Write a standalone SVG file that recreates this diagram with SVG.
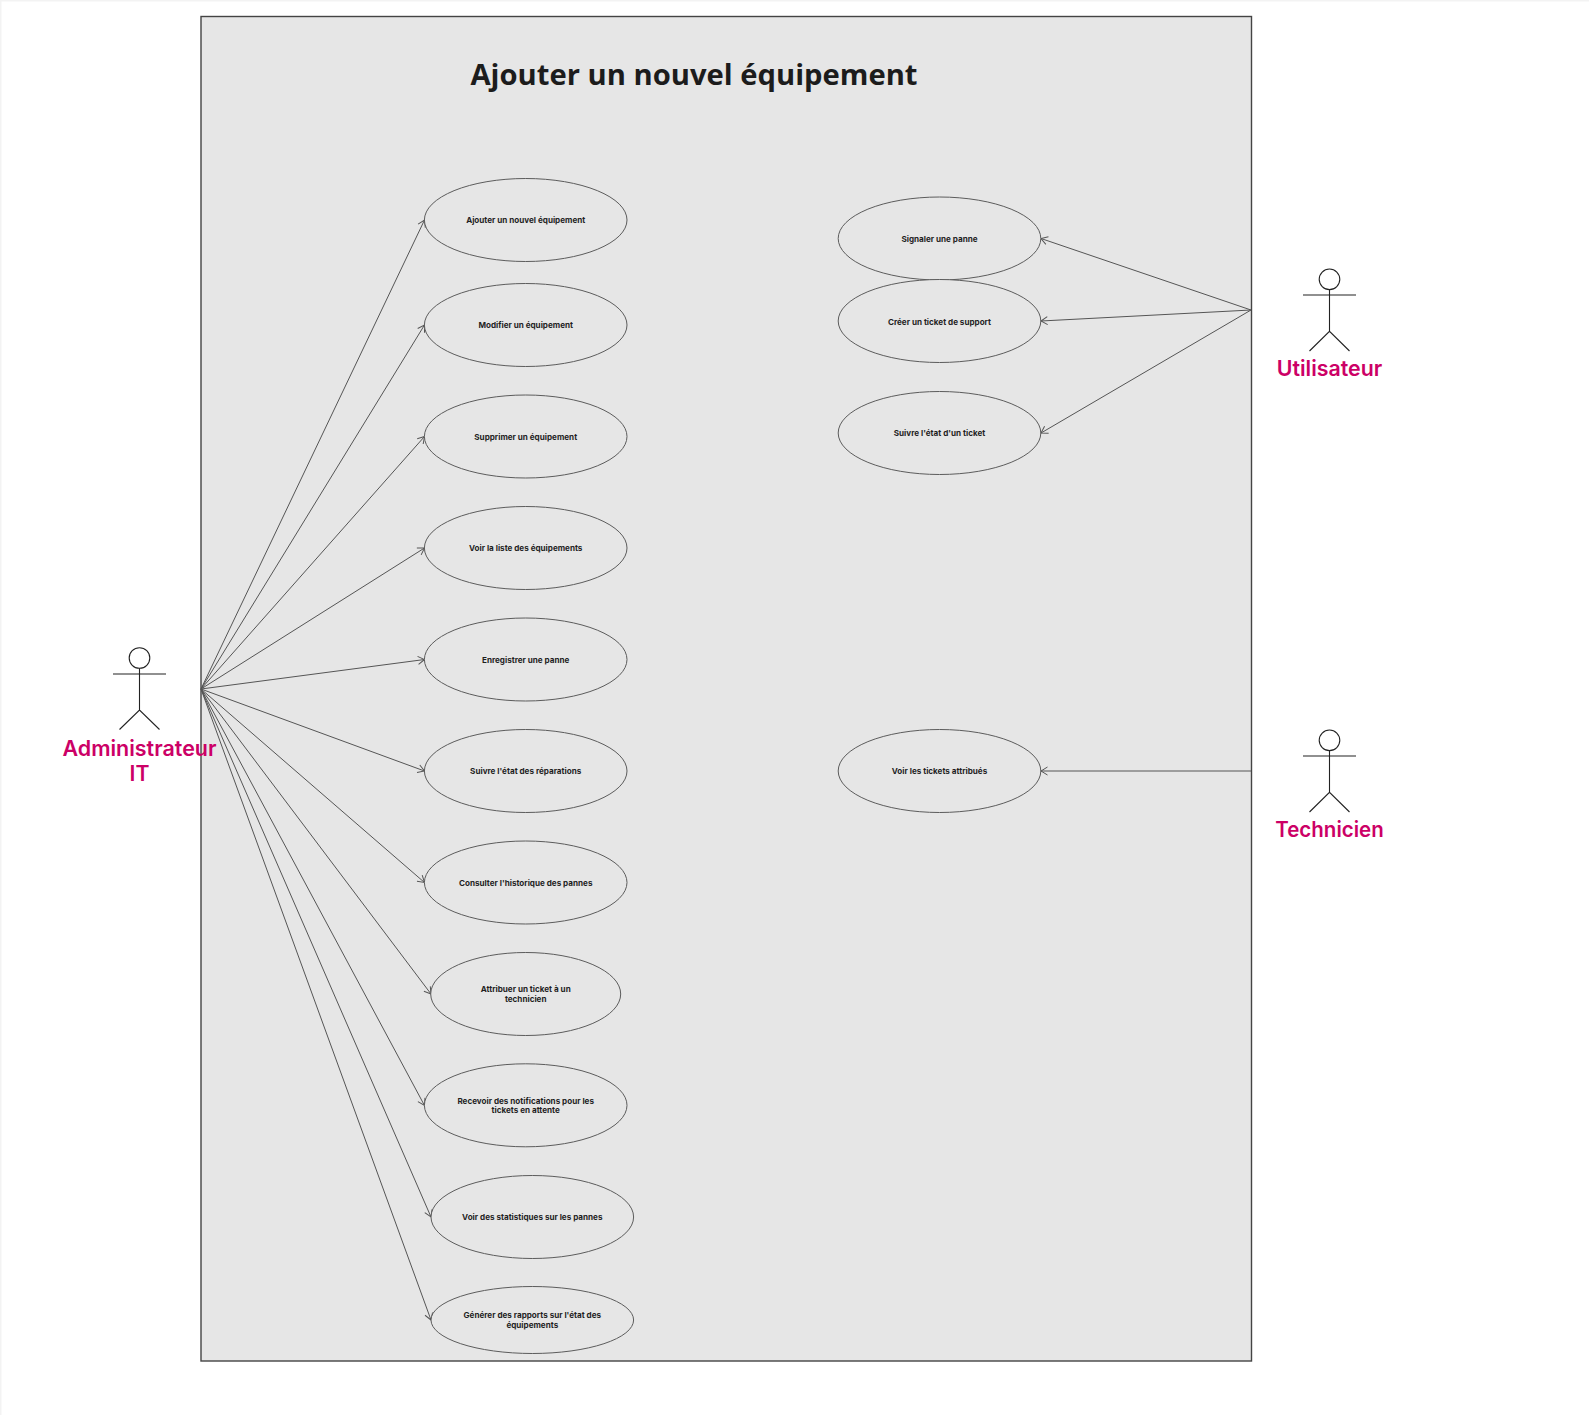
<svg xmlns="http://www.w3.org/2000/svg" width="1589" height="1415" viewBox="0 0 1589 1415">
<defs>
<marker id="arr" markerUnits="userSpaceOnUse" markerWidth="14" markerHeight="14" refX="9" refY="7" orient="auto"><path d="M2.5 3 L9 7 L2.5 11" fill="none" stroke="#555" stroke-width="1"/></marker>
</defs>
<style>
.uc{fill:#e6e6e6;stroke:#5c5c5c;stroke-width:1}
.conn line{stroke:#555;stroke-width:1;fill:none;marker-end:url(#arr)}
.lab{font-family:"Inter","Liberation Sans",sans-serif;font-weight:700;font-size:8.1px;fill:#1f1f1f;text-anchor:middle}
.act{font-family:"Inter","Liberation Sans",sans-serif;font-weight:600;font-size:21.2px;fill:#cc0066;text-anchor:middle}
.fig{fill:none;stroke:#222;stroke-width:1.1}
</style>
<rect width="1589" height="1415" fill="#f3f3f3"/>
<rect x="1.5" y="1.5" width="1587.5" height="1413.5" fill="#fff"/>
<g id="boundary"><rect x="201" y="16.5" width="1050.5" height="1344.5" fill="#e6e6e6" stroke="#444" stroke-width="1.4"/>
<text x="694" y="84.5" font-family="'Open Sans','Noto Sans',sans-serif" font-weight="700" font-size="29.2" fill="#1c1c1c" text-anchor="middle">Ajouter un nouvel équipement</text></g>
<g id="connectors" class="conn">
<line x1="201" y1="689" x2="424.5" y2="220"/>
<line x1="201" y1="689" x2="424.5" y2="325"/>
<line x1="201" y1="689" x2="424.5" y2="436.5"/>
<line x1="201" y1="689" x2="424.5" y2="548"/>
<line x1="201" y1="689" x2="424.5" y2="659.5"/>
<line x1="201" y1="689" x2="424.5" y2="771"/>
<line x1="201" y1="689" x2="424.5" y2="882.5"/>
<line x1="201" y1="689" x2="431" y2="994"/>
<line x1="201" y1="689" x2="424.5" y2="1105.5"/>
<line x1="201" y1="689" x2="431" y2="1217"/>
<line x1="201" y1="689" x2="431" y2="1320"/>
<line x1="1251" y1="310" x2="1041" y2="238.5"/>
<line x1="1251" y1="310" x2="1041" y2="321"/>
<line x1="1251" y1="310" x2="1041" y2="433"/>
<line x1="1251" y1="771" x2="1041" y2="771"/>
</g>
<g id="uc1"><ellipse class="uc" cx="525.7" cy="220" rx="101.3" ry="41.5"/><text class="lab" x="525.7" y="223">Ajouter un nouvel équipement</text></g>
<g id="uc2"><ellipse class="uc" cx="525.7" cy="325" rx="101.3" ry="41.5"/><text class="lab" x="525.7" y="328">Modifier un équipement</text></g>
<g id="uc3"><ellipse class="uc" cx="525.7" cy="436.5" rx="101.3" ry="41.5"/><text class="lab" x="525.7" y="440">Supprimer un équipement</text></g>
<g id="uc4"><ellipse class="uc" cx="525.7" cy="548" rx="101.3" ry="41.5"/><text class="lab" x="525.7" y="551">Voir la liste des équipements</text></g>
<g id="uc5"><ellipse class="uc" cx="525.7" cy="659.5" rx="101.3" ry="41.5"/><text class="lab" x="525.7" y="663">Enregistrer une panne</text></g>
<g id="uc6"><ellipse class="uc" cx="525.7" cy="771" rx="101.3" ry="41.5"/><text class="lab" x="525.7" y="774">Suivre l'état des réparations</text></g>
<g id="uc7"><ellipse class="uc" cx="525.7" cy="882.5" rx="101.3" ry="41.5"/><text class="lab" x="525.7" y="886">Consulter l'historique des pannes</text></g>
<g id="uc8"><ellipse class="uc" cx="525.7" cy="994" rx="95" ry="41.5"/><text class="lab" x="525.7" y="992">Attribuer un ticket à un</text><text class="lab" x="525.7" y="1002">technicien</text></g>
<g id="uc9"><ellipse class="uc" cx="525.7" cy="1105.3" rx="101.3" ry="41.5"/><text class="lab" x="525.7" y="1104">Recevoir des notifications pour les</text><text class="lab" x="525.7" y="1113">tickets en attente</text></g>
<g id="uc10"><ellipse class="uc" cx="532.3" cy="1217" rx="101.3" ry="41.5"/><text class="lab" x="532.3" y="1220">Voir des statistiques sur les pannes</text></g>
<g id="uc11"><ellipse class="uc" cx="532.3" cy="1320" rx="101.3" ry="33.5"/><text class="lab" x="532.3" y="1318">Générer des rapports sur l'état des</text><text class="lab" x="532.3" y="1328">équipements</text></g>
<g id="uc12"><ellipse class="uc" cx="939.5" cy="238.5" rx="101.3" ry="41.5"/><text class="lab" x="939.5" y="242">Signaler une panne</text></g>
<g id="uc13"><ellipse class="uc" cx="939.5" cy="321" rx="101.3" ry="41.5"/><text class="lab" x="939.5" y="325">Créer un ticket de support</text></g>
<g id="uc14"><ellipse class="uc" cx="939.5" cy="433" rx="101.3" ry="41.5"/><text class="lab" x="939.5" y="436">Suivre l'état d'un ticket</text></g>
<g id="uc15"><ellipse class="uc" cx="939.5" cy="771" rx="101.3" ry="41.5"/><text class="lab" x="939.5" y="774">Voir les tickets attribués</text></g>
<g id="actor-admin"><g class="fig"><circle cx="139.5" cy="658" r="10.3"/><path d="M113 674H166M139.5 668.3V710M119.5 729.5L139.5 710L159.5 729.5"/></g><text class="act" x="139.5" y="756" textLength="154" lengthAdjust="spacingAndGlyphs">Administrateur</text><text class="act" x="139.5" y="781">IT</text></g>
<g id="actor-user"><g class="fig"><circle cx="1329.5" cy="279.3" r="10.3"/><path d="M1303 295H1356M1329.5 289.6V331.3M1309.5 351L1329.5 331.3L1349.5 351"/></g><text class="act" x="1329.5" y="376" textLength="105.5" lengthAdjust="spacingAndGlyphs">Utilisateur</text></g>
<g id="actor-tech"><g class="fig"><circle cx="1329.5" cy="740.3" r="10.3"/><path d="M1303 756H1356M1329.5 750.6V792.3M1309.5 812L1329.5 792.3L1349.5 812"/></g><text class="act" x="1329.5" y="836.5" textLength="108.5" lengthAdjust="spacingAndGlyphs">Technicien</text></g>
</svg>
